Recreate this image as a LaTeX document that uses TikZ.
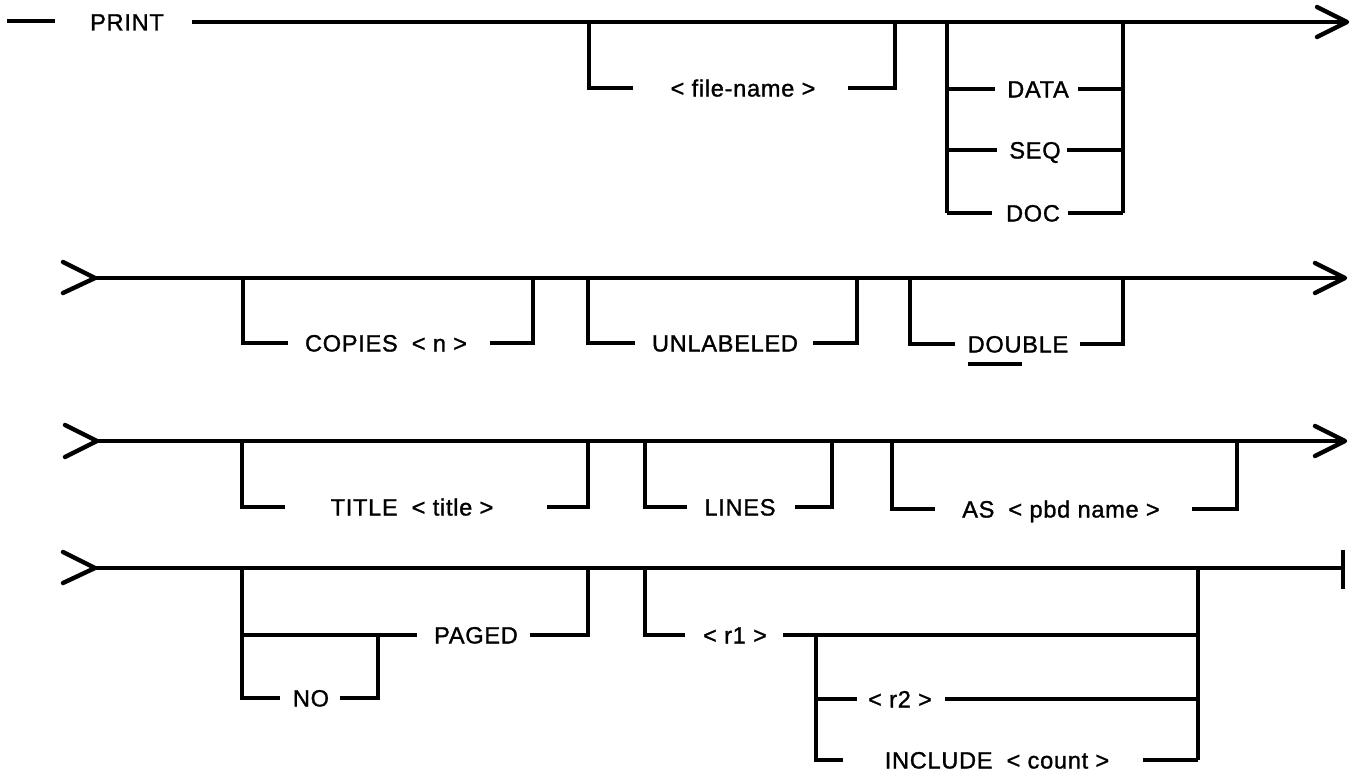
\documentclass[tikz,border=0pt]{standalone}
\usepackage{fontspec}
\setmainfont{Liberation Sans}
\newfontfamily\railfont[FakeBold=1.2,LetterSpace=3]{Liberation Sans}
\begin{document}
\begin{tikzpicture}[x=1pt,y=-1pt,
  rail/.style={line width=3.2pt},
  chev/.style={line width=4.4pt,line cap=round,line join=round},
  lbl/.style={anchor=base,inner sep=0pt,font=\railfont\fontsize{23.6}{28}\selectfont}]
\useasboundingbox[fill=white] (0,0) rectangle (1352,776);

% ---------------- Row 1 ----------------
\coordinate (dashA) at (7,21); \coordinate (dashB) at (55,21);
\draw[rail] (dashA) -- (dashB);
\node[lbl] (print) at (127,30.5) {PRINT};
\coordinate (m1s) at (192,22); \coordinate (m1e) at (1347,22);
\draw[rail] (m1s) -- (m1e);
\draw[chev] (1317,7) -- (m1e) -- (1317,37);

% <file-name>
\coordinate (fnL) at (589,22); \coordinate (fnR) at (895,22);
\node[lbl] (fn) at (743,96.5) {< file-name >};
\draw[rail] (fnL) -- (589,88) -- (633,88);
\draw[rail] (848,88) -- (895,88) -- (fnR);

% DATA / SEQ / DOC
\coordinate (dL) at (947,22); \coordinate (dR) at (1123,22);
\draw[rail] (dL) -- (947,213);
\draw[rail] (dR) -- (1123,213);
\node[lbl] (data) at (1038,97.5) {DATA};
\node[lbl] (seq) at (1035,158.5) {SEQ};
\node[lbl] (doc) at (1033,221.5) {DOC};
\draw[rail] (947,89) -- (995,89);  \draw[rail] (1078,89) -- (1123,89);
\draw[rail] (947,150) -- (997,150); \draw[rail] (1067,150) -- (1123,150);
\draw[rail] (947,213) -- (992,213); \draw[rail] (1068,213) -- (1123,213);

% ---------------- Row 2 ----------------
\coordinate (m2s) at (95,278); \coordinate (m2e) at (1345,278);
\draw[chev] (63,262) -- (m2s) -- (63,293);
\draw[rail] (m2s) -- (m2e);
\draw[chev] (1315,263) -- (m2e) -- (1315,293);

\coordinate (cpL) at (243,278); \coordinate (cpR) at (533,278);
\node[lbl] (copies) at (386,351.5) {COPIES\hspace{14pt}< n >};
\draw[rail] (cpL) -- (243,343) -- (288,343);
\draw[rail] (490,343) -- (533,343) -- (cpR);

\coordinate (unL) at (588,278); \coordinate (unR) at (857,278);
\node[lbl] (unlab) at (725,351.5) {UNLABELED};
\draw[rail] (unL) -- (588,343) -- (635,343);
\draw[rail] (813,343) -- (857,343) -- (unR);

\coordinate (dbL) at (910,278); \coordinate (dbR) at (1123,278);
\node[lbl] (dbl) at (1018,352.5) {DOUBLE};
\draw[rail] (dbL) -- (910,344) -- (955,344);
\draw[rail] (1080,344) -- (1123,344) -- (dbR);
\draw[rail] ([yshift=-11.5pt]dbl.base west) -- ++(54,0);

% ---------------- Row 3 ----------------
\coordinate (m3s) at (97,441); \coordinate (m3e) at (1345,441);
\draw[chev] (65,425) -- (m3s) -- (65,457);
\draw[rail] (m3s) -- (m3e);
\draw[chev] (1315,426) -- (m3e) -- (1315,456);

\coordinate (tiL) at (242,441); \coordinate (tiR) at (588,441);
\node[lbl] (title) at (412,515.5) {TITLE\hspace{14pt}< title >};
\draw[rail] (tiL) -- (242,507) -- (285,507);
\draw[rail] (547,507) -- (588,507) -- (tiR);

\coordinate (liL) at (645,441); \coordinate (liR) at (832,441);
\node[lbl] (lines) at (740,515.5) {LINES};
\draw[rail] (liL) -- (645,507) -- (687,507);
\draw[rail] (795,507) -- (832,507) -- (liR);

\coordinate (asL) at (892,441); \coordinate (asR) at (1237,441);
\node[lbl] (as) at (1061,517.5) {AS\hspace{14pt}< pbd name >};
\draw[rail] (asL) -- (892,509) -- (935,509);
\draw[rail] (1192,509) -- (1237,509) -- (asR);

% ---------------- Row 4 ----------------
\coordinate (m4s) at (95,568); \coordinate (m4e) at (1343,568);
\draw[chev] (63,552) -- (m4s) -- (63,583);
\draw[rail] (m4s) -- (m4e);
\draw[rail] (1343,550) -- (1343,589);

% [NO] PAGED
\coordinate (pgL) at (242,568); \coordinate (pgR) at (588,568);
\node[lbl] (paged) at (476,643.5) {PAGED};
\node[lbl] (no) at (311,706.5) {NO};
\draw[rail] (pgL) -- (242,698) -- (280,698);
\draw[rail] (242,635) -- (417,635);
\draw[rail] (530,635) -- (588,635) -- (pgR);
\draw[rail] (340,698) -- (378,698) -- (378,635);

% <r1> [<r2> | INCLUDE <count>]
\coordinate (rL) at (645,568); \coordinate (rR) at (1198,568);
\node[lbl] (ra) at (735,643.5) {< r1 >};
\node[lbl] (rb) at (900,707.5) {< r2 >};
\node[lbl] (inc) at (997,768.5) {INCLUDE\hspace{14pt}< count >};
\draw[rail] (rL) -- (645,635) -- (685,635);
\draw[rail] (783,635) -- (1198,635);
\draw[rail] (rR) -- (1198,760);
\draw[rail] (816,635) -- (816,760) -- (843,760);
\draw[rail] (816,699) -- (857,699);
\draw[rail] (945,699) -- (1198,699);
\draw[rail] (1143,760) -- (1198,760);
\end{tikzpicture}
\end{document}
